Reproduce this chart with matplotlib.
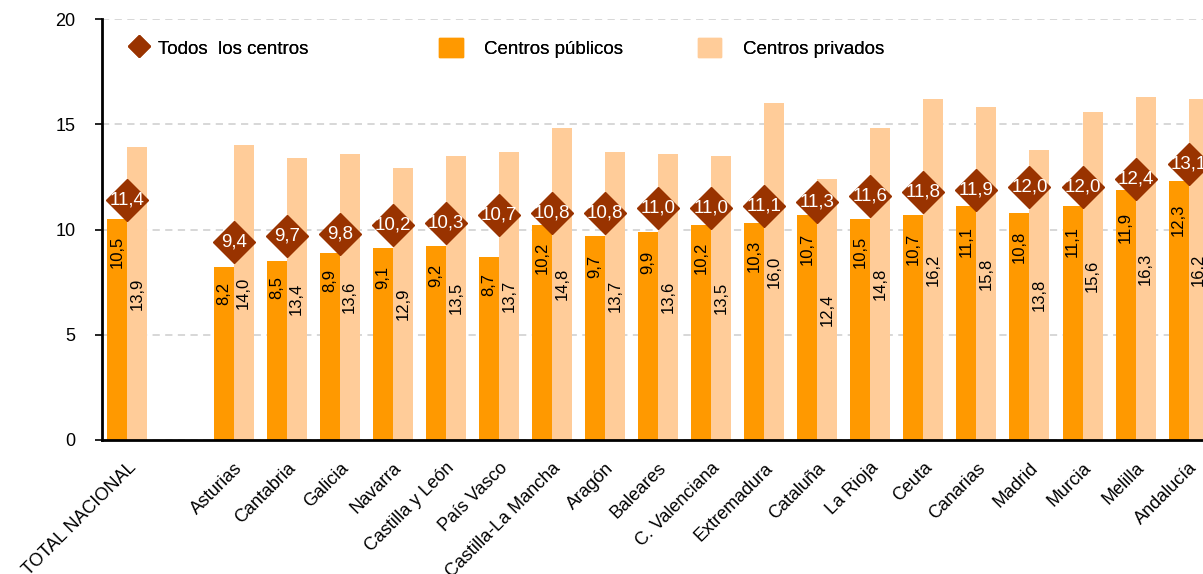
import matplotlib
matplotlib.use('Agg')
import matplotlib.pyplot as plt
from matplotlib.lines import Line2D
from matplotlib.patches import Patch
import numpy as np

plt.rcParams['font.family'] = ['Liberation Sans', 'DejaVu Sans']

# data
regions = ['TOTAL NACIONAL', 'Asturias', 'Cantabria', 'Galicia', 'Navarra',
           'Castilla y León', 'País Vasco', 'Castilla-La Mancha', 'Aragón',
           'Baleares', 'C. Valenciana', 'Extremadura', 'Cataluña', 'La Rioja',
           'Ceuta', 'Canarias', 'Madrid', 'Murcia', 'Melilla', 'Andalucía']
todos = [11.4, 9.4, 9.7, 9.8, 10.2, 10.3, 10.7, 10.8, 10.8, 11.0, 11.0,
         11.1, 11.3, 11.6, 11.8, 11.9, 12.0, 12.0, 12.4, 13.1]
publicos = [10.5, 8.2, 8.5, 8.9, 9.1, 9.2, 8.7, 10.2, 9.7, 9.9, 10.2,
            10.3, 10.7, 10.5, 10.7, 11.1, 10.8, 11.1, 11.9, 12.3]
privados = [13.9, 14.0, 13.4, 13.6, 12.9, 13.5, 13.7, 14.8, 13.7, 13.6, 13.5,
            16.0, 12.4, 14.8, 16.2, 15.8, 13.8, 15.6, 16.3, 16.2]

C_PUB = '#FF9900'
C_PRIV = '#FFCC99'
C_TODOS = '#993300'

# total sits alone, one empty slot before the regions
x = np.r_[0, np.arange(2, 2 + len(regions) - 1)]
w = 0.377

fig = plt.figure(figsize=(12.03, 5.74), dpi=100)
ax = fig.add_axes([102 / 1203, 1 - 440 / 574, 1 - 102 / 1203, (440 - 19) / 574])

ax.bar(x - w / 2, publicos, w, color=C_PUB, zorder=2)
ax.bar(x + w / 2, privados, w, color=C_PRIV, zorder=2)
ax.plot(x, todos, 'D', color=C_TODOS, markersize=21, zorder=3)

fmt = lambda v: ('%.1f' % v).replace('.', ',')
for xi, p, q, t in zip(x, publicos, privados, todos):
    ax.text(xi - w / 2, p * 0.85, fmt(p), rotation=90, ha='center',
            va='center', fontsize=12, zorder=4)
    ax.text(xi + w / 2, q / 2, fmt(q), rotation=90, ha='center',
            va='center', fontsize=12, zorder=4)
    ax.text(xi, t, fmt(t), color='white', ha='center', va='center',
            fontsize=13.5, zorder=5)

ax.set_xlim(-0.48, 20.27)
ax.set_ylim(0, 20)
ax.set_yticks([0, 5, 10, 15, 20])
ax.yaxis.grid(True, color='#d4d4d4', linestyle=(0, (4, 3)), linewidth=1.3)
ax.set_axisbelow(True)
ax.tick_params(axis='y', labelsize=13, length=5, width=1.2, pad=14)
ax.set_xticks(x)
ax.set_xticklabels(regions, rotation=45, ha='right', va='top',
                   rotation_mode='anchor', fontsize=13)
ax.tick_params(axis='x', length=0, pad=14)
for s in ['top', 'right']:
    ax.spines[s].set_visible(False)
ax.spines['left'].set_linewidth(2)
ax.spines['bottom'].set_linewidth(2)

# legend, three separate entries
items = [
    (Line2D([], [], marker='D', color=C_TODOS, linestyle='none', markersize=11),
     'Todos  los centros', 0.1057, 0.4),
    (Patch(color=C_PUB), 'Centros públicos', 0.365, 1.15),
    (Patch(color=C_PRIV), 'Centros privados', 0.580, 1.15),
]
for h, lab, xa, pad in items:
    lg = fig.legend([h], [lab], loc='center left', bbox_to_anchor=(xa, 1 - 48 / 574),
                    frameon=False, fontsize=13.5, handlelength=1.25,
                    handleheight=1.2, handletextpad=pad, borderaxespad=0,
                    borderpad=0)
    fig.add_artist(lg)

fig.savefig('out.png', dpi=100)
